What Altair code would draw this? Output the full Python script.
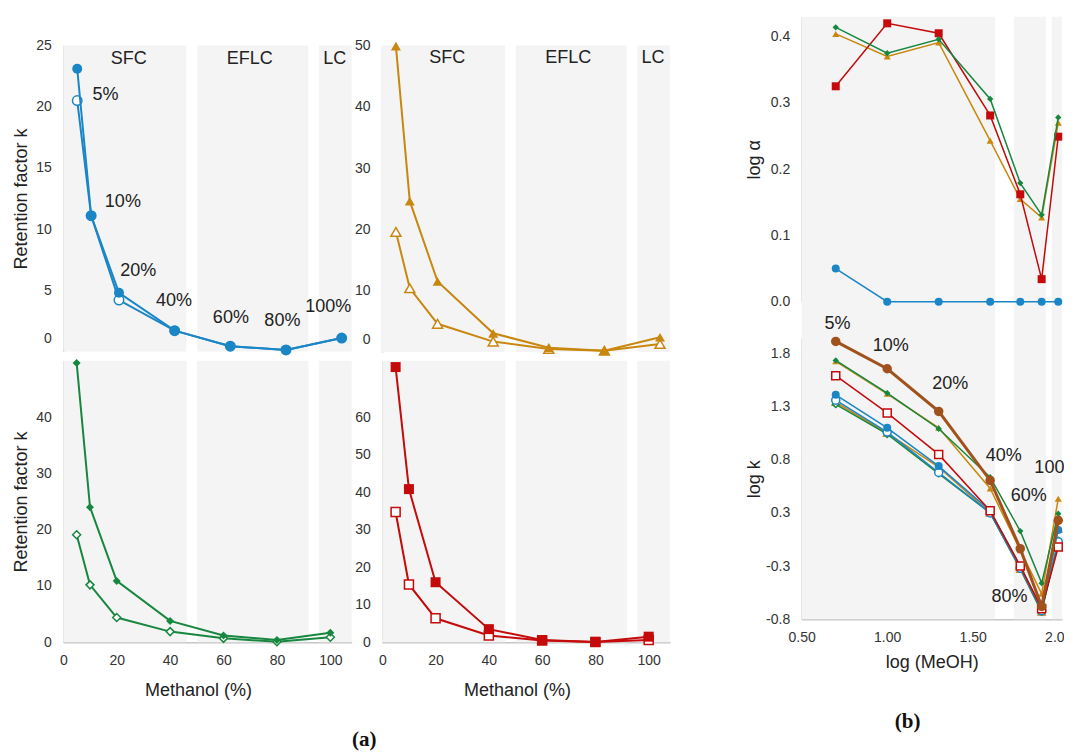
import altair as alt
import pandas as pd

# ---------------- data ----------------
methanol = [5, 10, 20, 40, 60, 80, 100]
log_meoh = [0.699, 1.000, 1.301, 1.602, 1.778, 1.903, 2.000]
pct_text = ["5%", "10%", "20%", "40%", "60%", "80%", "100%"]
zone_text = ["SFC", "EFLC", "LC"]

# (a) retention factor k
k_blue_filled = [23.1, 11.1, 4.8, 1.7, 0.43, 0.13, 1.1]
k_blue_open = [20.5, 11.1, 4.2, 1.7, 0.43, 0.13, 1.1]
k_orange_filled = [49.9, 24.6, 11.5, 3.05, 0.7, 0.2, 2.4]
k_orange_open = [19.6, 10.4, 4.6, 1.7, 0.5, 0.2, 1.3]
k_green_filled = [49.6, 24.0, 10.9, 3.8, 1.2, 0.4, 1.7]
k_green_open = [19.1, 10.2, 4.4, 1.9, 0.7, 0.1, 0.9]
k_red_filled = [73.3, 40.8, 16.0, 3.5, 0.6, 0.1, 1.5]
k_red_open = [34.7, 15.4, 6.4, 1.8, 0.5, 0.1, 0.6]

# (b) log alpha
loga_blue = [0.050, 0.0, 0.0, 0.0, 0.0, 0.0, 0.0]
loga_orange = [0.404, 0.370, 0.391, 0.243, 0.155, 0.127, 0.270]
loga_green = [0.414, 0.375, 0.396, 0.306, 0.179, 0.131, 0.278]
loga_red = [0.325, 0.420, 0.405, 0.281, 0.162, 0.034, 0.249]

# (b) log k
logk_orange_open = [1.29, 1.00, 0.68, 0.25, -0.28, -0.68, 0.10]
logk_green_open = [1.27, 0.99, 0.62, 0.25, -0.27, -0.68, -0.01]
logk_blue_open = [1.31, 1.01, 0.63, 0.25, -0.27, -0.67, -0.02]
logk_blue_filled = [1.36, 1.05, 0.69, 0.27, -0.25, -0.65, 0.09]
logk_red_open = [1.54, 1.19, 0.80, 0.27, -0.25, -0.65, -0.07]
logk_orange_filled = [1.675, 1.37, 1.05, 0.48, -0.10, -0.51, 0.383]
logk_green_filled = [1.683, 1.376, 1.041, 0.586, 0.079, -0.41, 0.242]
logk_brown = [1.862, 1.605, 1.204, 0.555, -0.086, -0.629, 0.18]

# zone limits (x data units)
zones_top_a = [(0, 44.2), (48.1, 88.0), (91.9, 103.6)]
zones_bot_a = [(0, 46.2), (50.1, 91.8), (95.8, 108.0)]
zones_b = [(0.5, 1.630), (1.741, 1.928), (1.962, 2.022)]

# annotation anchors (data units of each panel)
pct_pos_a = [(15.2, 20.96), (21.4, 12.22), (26.9, 6.57), (39.8, 4.09),
             (60.2, 2.77), (78.7, 2.49), (95.2, 3.67)]
pct_pos_b = [(0.709, 2.022), (1.021, 1.817), (1.369, 1.458), (1.681, 0.781),
             (1.828, 0.405), (1.715, -0.541), (1.995, 0.673)]
zone_x_top = [23.5, 67.0, 97.5]

BLUE = "#1b86c6"
ORANGE = "#c8870f"
GREEN = "#17873f"
RED = "#c40a0a"
BROWN = "#a1521c"
BAND = "#f4f4f4"
FONT = "Liberation Sans"

# ---------------- geometry ----------------
W, H = 1056, 747
P = {
    "TL": dict(xr=[55.3, 343.7], xd=[0, 103.6], yr=[343.5, 37.5], yd=[0, 25]),
    "TR": dict(xr=[374.0, 662.0], xd=[0, 103.6], yr=[344.0, 37.5], yd=[0, 50]),
    "BL": dict(xr=[55.3, 343.7], xd=[0, 108], yr=[634.3, 352.7], yd=[0, 50]),
    "BR": dict(xr=[374.3, 662.0], xd=[0, 108], yr=[634.3, 352.7], yd=[0, 75]),
    "BT": dict(xr=[793.7, 1054.0], xd=[0.5, 2.022], yr=[293.7, 8.7], yd=[0, 0.43]),
    "BB": dict(xr=[793.7, 1054.0], xd=[0.5, 2.022], yr=[611.3, 330.0], yd=[-0.75, 1.894]),
}


def sx(p):
    return alt.Scale(domain=P[p]["xd"], range=P[p]["xr"], nice=False, zero=False)


def sy(p):
    return alt.Scale(domain=P[p]["yd"], range=P[p]["yr"], nice=False, zero=False)


zero_up = {"condition": {"test": "datum.value === 0", "value": -13}, "value": 0}


def yaxis(p, values, title=None, **kw):
    args = dict(orient="left", offset=-P[p]["xr"][0], values=values, labelPadding=12)
    if title is not None:
        args.update(title=title, titleBaseline="alphabetic")
    else:
        args.update(title=None)
    args.update(kw)
    return alt.Axis(**args)


def xaxis(p, values, title, **kw):
    args = dict(orient="bottom", offset=P[p]["yr"][0] - H, values=values, labelPadding=11,
                labelFlush=False, title=title, titleBaseline="middle")
    args.update(kw)
    return alt.Axis(**args)


layers = []


def bands(p, zones, y0, y1, xax=None, yax=None):
    df = pd.DataFrame({"x": [z[0] for z in zones], "x2": [z[1] for z in zones],
                       "y": [y0] * len(zones), "y2": [y1] * len(zones)})
    layers.append(
        alt.Chart(df).mark_rect(color=BAND).encode(
            x=alt.X("x:Q", scale=sx(p), axis=xax),
            x2="x2",
            y=alt.Y("y:Q", scale=sy(p), axis=yax),
            y2="y2",
        )
    )


def series(p, xs, ys, color, shape, size, filled, lw, xax=None, yax=None):
    df = pd.DataFrame({"x": xs, "y": ys})
    layers.append(
        alt.Chart(df).mark_line(color=color, strokeWidth=lw).encode(
            x=alt.X("x:Q", scale=sx(p), axis=xax),
            y=alt.Y("y:Q", scale=sy(p), axis=yax),
        )
    )
    if filled:
        mk = alt.Chart(df).mark_point(shape=shape, size=size, filled=True, color=color, opacity=1)
    else:
        mk = alt.Chart(df).mark_point(shape=shape, size=size, filled=False, fill="white",
                                      stroke=color, strokeWidth=1.5, opacity=1)
    layers.append(mk.encode(x=alt.X("x:Q", scale=sx(p), axis=None),
                            y=alt.Y("y:Q", scale=sy(p), axis=None)))


def texts(p, pos, labels, size=18, font=FONT, weight="normal", color="#222222"):
    df = pd.DataFrame({"x": [a[0] for a in pos], "y": [a[1] for a in pos], "t": labels})
    layers.append(
        alt.Chart(df).mark_text(font=font, fontSize=size, fontWeight=weight, color=color,
                                align="center", baseline="middle").encode(
            x=alt.X("x:Q", scale=sx(p), axis=None),
            y=alt.Y("y:Q", scale=sy(p), axis=None),
            text="t:N",
        )
    )


# ---- bands (carry the axes of panel a) ----
bands("TL", zones_top_a, 0, 25,
      yax=yaxis("TL", [0, 5, 10, 15, 20, 25], "Retention factor k", titleX=-36.8, labelOffset=zero_up))
bands("TR", zones_top_a, 0, 50,
      yax=yaxis("TR", [0, 10, 20, 30, 40, 50], labelOffset=zero_up))
bands("BL", zones_bot_a, 0, 50,
      xax=xaxis("BL", [0, 20, 40, 60, 80, 100], "Methanol (%)", titleX=190, titleY=47.7),
      yax=yaxis("BL", [0, 10, 20, 30, 40], "Retention factor k", titleX=-36.8))
bands("BR", zones_bot_a, 0, 75,
      xax=xaxis("BR", [0, 20, 40, 60, 80, 100], "Methanol (%)", titleX=509, titleY=47.7),
      yax=yaxis("BR", [0, 10, 20, 30, 40, 50, 60]))
bands("BB", zones_b, -0.75, 4.914,
      xax=xaxis("BB", [0.5, 1.0, 1.5, 2.0], "log (MeOH)", titleY=42.7,
                labelExpr="format(datum.value, '.2f')"),
      yax=yaxis("BB", [-0.75, -0.25, 0.25, 0.75, 1.25, 1.75], "log k", titleX=-42.5,
                labelExpr="(datum.value < 0 ? '-' : '') + format(abs(datum.value), '.1f')"))

# ---- panel a series ----
series("TL", methanol, k_blue_open, BLUE, "circle", 90, False, 2)
series("TL", methanol, k_blue_filled, BLUE, "circle", 100, True, 2)
series("TR", methanol, k_orange_open, ORANGE, "triangle-up", 100, False, 2)
series("TR", methanol, k_orange_filled, ORANGE, "triangle-up", 100, True, 2)
series("BL", methanol, k_green_open, GREEN, "diamond", 64, False, 2)
series("BL", methanol, k_green_filled, GREEN, "diamond", 64, True, 2)
series("BR", methanol, k_red_open, RED, "square", 81, False, 2)
series("BR", methanol, k_red_filled, RED, "square", 100, True, 2)

# ---- panel b top: log alpha ----
series("BT", log_meoh, loga_blue, BLUE, "circle", 64, True, 1.5,
       yax=yaxis("BT", [0, 0.1, 0.2, 0.3, 0.4], "log α", titleX=-42.5,
                 labelExpr="format(datum.value, '.1f')"))
series("BT", log_meoh, loga_orange, ORANGE, "triangle-up", 49, True, 1.5)
series("BT", log_meoh, loga_red, RED, "square", 64, True, 1.5)
series("BT", log_meoh, loga_green, GREEN, "diamond", 40, True, 1.5)

# ---- panel b bottom: log k ----
series("BB", log_meoh, logk_orange_open, ORANGE, "triangle-up", 49, False, 1.5)
series("BB", log_meoh, logk_green_open, GREEN, "diamond", 40, False, 1.5)
series("BB", log_meoh, logk_blue_open, BLUE, "circle", 64, False, 1.5)
series("BB", log_meoh, logk_blue_filled, BLUE, "circle", 64, True, 1.5)
series("BB", log_meoh, logk_red_open, RED, "square", 64, False, 1.5)
series("BB", log_meoh, logk_orange_filled, ORANGE, "triangle-up", 49, True, 1.5)
series("BB", log_meoh, logk_green_filled, GREEN, "diamond", 40, True, 1.5)
series("BB", log_meoh, logk_brown, BROWN, "circle", 90, True, 3)

# ---- annotations ----
texts("TL", pct_pos_a, pct_text)
texts("TL", [(x, 23.86) for x in zone_x_top], zone_text)
texts("TR", [(x, 47.9) for x in zone_x_top], zone_text)
texts("BB", pct_pos_b, pct_text)
texts("BL", [(112.7, -17.3)], ["(a)"], size=21, font="Liberation Serif", weight="bold", color="#111111")
texts("BB", [(1.119, -1.719)], ["(b)"], size=21, font="Liberation Serif", weight="bold", color="#111111")

chart = (
    alt.layer(*layers)
    .resolve_scale(x="independent", y="independent")
    .properties(width=W, height=H, padding=0, autosize=alt.AutoSizeParams(type="none"))
    .configure_view(stroke=None)
    .configure_axis(
        labelFont=FONT, labelFontSize=14, labelColor="#333333",
        domainColor="#c6c6c6", domainWidth=1.5, ticks=False, tickSize=0, grid=False,
        titleFont=FONT, titleFontSize=18, titleColor="#222222", titleFontWeight="normal",
    )
)

chart.save("out.html", embed_options={"renderer": "svg", "actions": False})
